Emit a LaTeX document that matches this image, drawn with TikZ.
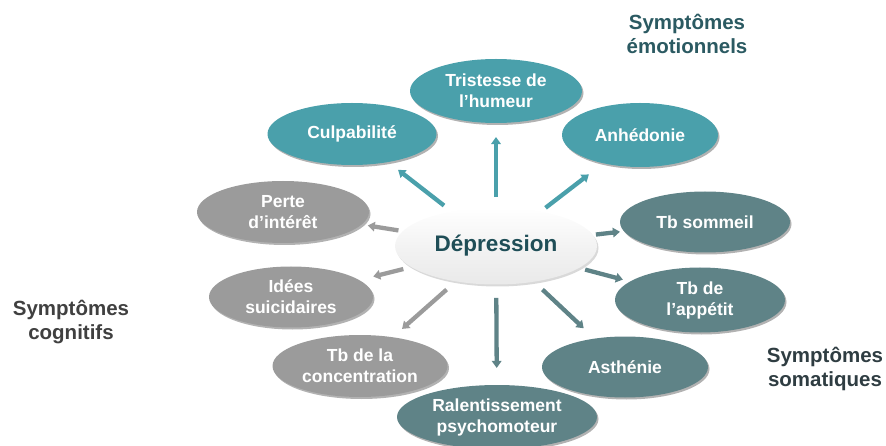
\documentclass[tikz,border=0pt]{standalone}
\usepackage{fontspec}
\setmainfont{Liberation Sans}
\usetikzlibrary{shapes.geometric,shadows,arrows.meta,calc}
\definecolor{emo}{HTML}{4AA0AB}
\definecolor{soma}{HTML}{5F8387}
\definecolor{cogn}{HTML}{9B9B9B}
\definecolor{deptext}{HTML}{1F4E57}
\definecolor{emolab}{HTML}{2B5A62}
\definecolor{cognlab}{HTML}{404040}
\definecolor{somalab}{HTML}{2F3D42}
\definecolor{depfill}{HTML}{F3F3F3}
\tikzset{
  bub/.style={ellipse, inner sep=0pt, text=white, align=center,
    font=\bfseries\fontsize{17.5}{21}\selectfont,
    drop shadow={shadow xshift=1.5pt, shadow yshift=-2pt, opacity=0.3, fill=black}},
  emob/.style={bub, fill=emo},
  somab/.style={bub, fill=soma},
  cognb/.style={bub, fill=cogn},
  depb/.style={ellipse, inner sep=0pt, top color=white, bottom color=depfill!96!black, middle color=depfill, text=deptext,
    font=\bfseries\fontsize{22.5}{26}\selectfont,
    minimum width=202pt, minimum height=77pt,
    drop shadow={shadow xshift=1.5pt, shadow yshift=-2pt, opacity=0.15, fill=black}},
  lab/.style={align=center, font=\bfseries\fontsize{20.5}{23.5}\selectfont},
  arr/.style={line width=4.3pt, -{Triangle[width=9.5pt,length=7pt]}},
}
\begin{document}
\begin{tikzpicture}[x=1pt,y=-1pt]
\useasboundingbox (0,0) rectangle (886,446);
\node[depb] (dep) at (496,246) {Dépression};
\node[emob, minimum width=172pt, minimum height=64pt] (tri) at (496,91) {Tristesse de\\l’humeur};
\node[emob, minimum width=169pt, minimum height=62pt] (culp) at (352,134) {Culpabilité};
\node[emob, minimum width=156pt, minimum height=64pt] (anh) at (640,135) {Anhédonie};
\node[cognb, minimum width=172pt, minimum height=62pt] (perte) at (283,212) {Perte\\d’intérêt};
\node[cognb, minimum width=164pt, minimum height=61pt] (idees) at (291,297) {Idées\\suicidaires};
\node[cognb, minimum width=175pt, minimum height=62pt] (conc) at (360,366) {Tb de la\\concentration};
\node[somab, minimum width=170pt, minimum height=61pt] (somm) at (705,222) {Tb sommeil};
\node[somab, minimum width=170pt, minimum height=65pt] (app) at (700,300) {Tb de\\l’appétit};
\node[somab, minimum width=166pt, minimum height=61pt] (asth) at (625,367) {Asthénie};
\node[somab, minimum width=200pt, minimum height=64pt] (ral) at (497,417) {Ralentissement\\psychomoteur};

\draw[arr, emo] ($(dep)!0.316!(tri)$) -- ($(dep)!0.703!(tri)$);
\draw[arr, emo] ($(dep)!0.361!(culp)$) -- ($(dep)!0.680!(culp)$);
\draw[arr, emo] ($(dep)!0.344!(anh)$) -- ($(dep)!0.645!(anh)$);
\draw[arr, cogn] ($(dep)!0.458!(perte)$) -- ($(dep)!0.602!(perte)$);
\draw[arr, cogn] ($(dep)!0.452!(idees)$) -- ($(dep)!0.599!(idees)$);
\draw[arr, cogn] ($(dep)!0.363!(conc)$) -- ($(dep)!0.691!(conc)$);
\draw[arr, soma] ($(dep)!0.304!(ral)$) -- ($(dep)!0.713!(ral)$);
\draw[arr, soma] ($(dep)!0.360!(asth)$) -- ($(dep)!0.680!(asth)$);
\draw[arr, soma] ($(dep)!0.437!(app)$) -- ($(dep)!0.622!(app)$);
\draw[arr, soma] ($(dep)!0.478!(somm)$) -- ($(dep)!0.593!(somm)$);

\node[lab, text=emolab] (lemo) at (687,34) {Symptômes\\émotionnels};
\node[lab, text=cognlab] (lcogn) at (71,322) {Symptômes\\cognitifs};
\node[lab, text=somalab] (lsoma) at (825,369) {Symptômes\\somatiques};
\end{tikzpicture}
\end{document}
